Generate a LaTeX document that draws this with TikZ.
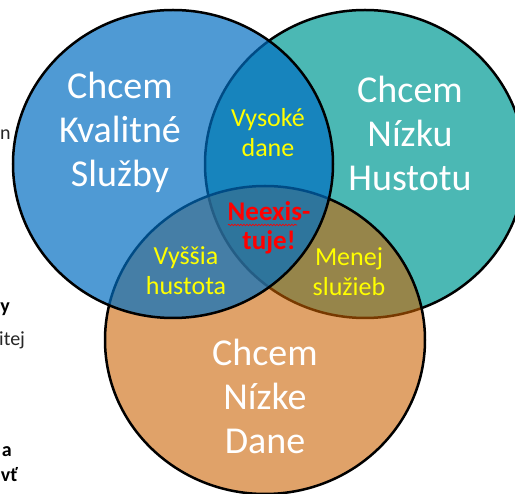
\documentclass[tikz,border=0pt]{standalone}
\usepackage{fontspec}
\setmainfont{Carlito}
\usetikzlibrary{decorations.pathmorphing}
\definecolor{tealc}{RGB}{75,184,180}
\definecolor{orangec}{RGB}{203,98,0}
\definecolor{bluec}{RGB}{0,110,194}
\definecolor{yel}{RGB}{255,255,0}
\definecolor{strayc}{RGB}{38,38,38}
\tikzset{
  set/.style={draw=black, line width=2.5pt},
  biglabel/.style={text=white, align=center, inner sep=0pt, font=\fontsize{38}{44}\selectfont},
  smalllabel/.style={text=yel, align=center, inner sep=0pt, font=\fontsize{26}{30}\selectfont},
  redlabel/.style={text=red, align=center, inner sep=0pt, font=\bfseries\fontsize{27}{29}\selectfont},
  stray/.style={text=strayc, inner sep=0pt, font=\fontsize{20}{22}\selectfont},
  straybold/.style={text=black, inner sep=0pt, font=\bfseries\fontsize{20}{22}\selectfont},
}
\begin{document}
\begin{tikzpicture}[x=1pt,y=-1pt]
\useasboundingbox (0,0) rectangle (515,494);
\clip (0,0) rectangle (515,494);
\fill[white] (0,0) rectangle (515,494);
% circles: teal (bottom), orange, blue (top)
\draw[set, fill=tealc] (365,164) ellipse [x radius=160pt, y radius=154pt];
\draw[set, fill=orangec, fill opacity=0.59] (265,340) ellipse [x radius=160pt, y radius=154pt];
\draw[set, fill=bluec, fill opacity=0.69] (173,164) ellipse [x radius=160pt, y radius=154pt];
% labels
\node[biglabel] (kval) at (120,132) {Chcem\\Kvalitné\\Služby};
\node[biglabel] (hust) at (410,133) {Chcem\\Nízku\\Hustotu};
\node[biglabel] (dane) at (265,396) {Chcem\\Nízke\\Dane};
\node[smalllabel] (vys) at (268,133) {Vysoké\\dane};
\node[smalllabel] (vyss) at (186,271) {Vyššia\\hustota};
\node[smalllabel] (men) at (349,272) {Menej\\služieb};
\node[redlabel] (neex) at (269,228) {Neexis-\\tuje!};
\draw[red, line width=0.6pt, decorate, decoration={snake, segment length=3pt, amplitude=0.8pt}] (228,225) -- (297,225);
% text fragments at left edge
\node[stray, anchor=base west] (s1) at (0,140) {n};
\node[straybold, anchor=base east] (s2) at (10,313) {y};
\node[stray, anchor=base west] (s3) at (-1,346) {itej};
\node[straybold, anchor=base east] (s4) at (12,457) {a};
\node[straybold, anchor=base east] (s5) at (18,482) {vť};
\end{tikzpicture}
\end{document}
